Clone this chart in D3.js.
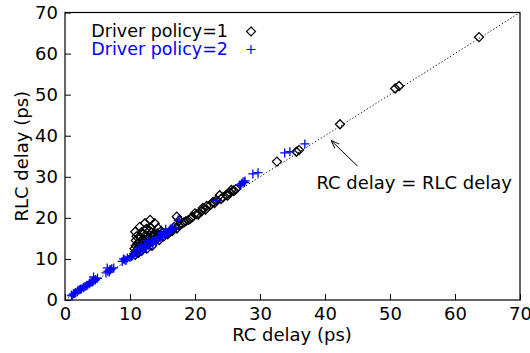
<!DOCTYPE html>
<html lang="en">
<head>
<meta charset="utf-8">
<title>RC vs RLC delay</title>
<script src="https://cdn.jsdelivr.net/npm/d3@7"></script>
<style>
  body { margin: 0; background: #fff; }
  text { font-family: "DejaVu Sans", sans-serif; }
</style>
</head>
<body>
<script>
// Driver policy = 1 (diamonds)
var rc1  = [10.8, 11.5, 12.3, 13.1, 13.8, 11.0, 11.8, 12.5, 13.2, 14.3,
            10.9, 11.6, 12.4, 13.3, 14.8, 11.2, 12.0, 12.8, 13.6, 10.7,
            11.4, 12.2, 13.0, 14.0, 10.8, 11.3, 11.8, 12.6, 13.4, 14.5,
            15.2, 15.8, 16.5, 17.2, 17.2, 17.6, 18.0, 18.6, 19.3, 20.0,
            20.5, 21.2, 21.8, 22.4, 22.8, 23.3, 23.8, 24.3, 24.8, 25.3,
            25.6, 26.0, 32.6, 35.6, 36.0, 42.3, 50.8, 51.4, 63.7,
            11.1, 11.7, 12.1, 12.7, 13.5, 14.1, 10.9, 11.5, 12.3, 12.9,
            13.7, 14.6, 15.4, 16.1, 16.8, 17.5, 18.3, 19.0, 19.6, 20.3,
            21.0, 21.6, 23.0, 24.0, 25.0, 25.9, 26.3, 12.0, 13.0, 14.2];
var rlc1 = [16.6, 17.8, 18.7, 19.5, 18.7, 15.5, 16.5, 17.3, 17.6, 17.5,
            14.5, 15.2, 15.8, 16.4, 16.8, 13.8, 14.2, 14.8, 15.4, 12.5,
            13.0, 13.4, 13.8, 14.6, 11.0, 11.5, 12.0, 12.5, 13.2, 14.6,
            15.5, 16.0, 16.8, 17.4, 20.3, 19.4, 18.6, 19.2, 19.8, 21.1,
            20.8, 22.4, 22.9, 23.2, 23.9, 24.3, 25.5, 25.0, 25.6, 26.2,
            26.8, 26.6, 33.7, 36.1, 36.5, 42.8, 51.5, 52.1, 64.0,
            12.2, 12.8, 13.0, 13.6, 14.3, 15.2, 13.2, 14.0, 14.7, 15.3,
            16.0, 15.8, 16.2, 16.6, 17.8, 18.2, 18.9, 19.5, 20.2, 20.9,
            21.6, 22.0, 23.6, 24.6, 25.4, 26.6, 27.0, 16.0, 16.9, 16.2];

// Driver policy = 2 (pluses)
var rc2  = [1.0, 1.3, 1.6, 1.9, 2.2, 2.5, 2.8, 3.1, 3.4, 3.7,
            4.0, 4.3, 4.7, 5.0, 4.4, 6.3, 6.6, 6.9, 7.2, 7.5,
            6.5, 8.8, 9.2, 9.6, 10.0, 10.4, 10.7, 11.0, 11.3, 11.6,
            12.0, 12.3, 12.6, 13.0, 13.3, 13.6, 14.0, 14.3, 14.6, 15.0,
            15.3, 15.6, 16.0, 16.4, 16.6, 17.4, 12.5, 13.5, 11.8, 12.8,
            14.8, 15.5, 23.2, 26.9, 27.2, 27.4, 27.7, 28.9, 29.7, 33.8,
            34.6, 36.9,
            1.1, 1.5, 2.0, 2.4, 2.9, 3.3, 3.8, 4.2, 4.6, 6.8,
            7.0, 9.0, 9.4, 10.2, 10.6, 11.1, 11.5, 11.9, 12.4, 12.9,
            13.4, 13.9, 14.4, 14.9, 15.4, 15.9, 16.2, 17.0, 27.0, 27.6];
var rlc2 = [1.2, 1.5, 1.8, 2.0, 2.5, 2.7, 3.0, 3.3, 3.6, 3.9,
            4.3, 4.5, 5.0, 5.3, 5.6, 6.6, 7.0, 7.3, 7.6, 7.8,
            7.8, 9.4, 9.8, 10.2, 10.4, 10.8, 11.8, 11.3, 12.2, 11.9,
            12.6, 13.0, 13.3, 13.6, 14.0, 14.2, 14.6, 15.0, 15.2, 15.6,
            16.0, 16.2, 16.6, 17.0, 17.6, 19.5, 12.6, 13.6, 13.5, 14.5,
            16.5, 17.2, 24.2, 28.0, 28.4, 28.8, 29.0, 30.7, 31.0, 35.8,
            36.1, 38.0,
            1.0, 1.6, 2.3, 2.6, 3.1, 3.5, 4.1, 4.4, 4.8, 6.8,
            7.4, 10.0, 9.6, 10.6, 11.3, 11.8, 12.7, 12.3, 13.2, 13.3,
            14.3, 14.4, 15.3, 15.4, 16.3, 16.5, 17.3, 17.4, 27.9, 28.6];

var xTicks = [0, 10, 20, 30, 40, 50, 60, 70];
var yTicks = [0, 10, 20, 30, 40, 50, 60, 70];

var w = 530, h = 353;
var padL = 65, padR = 520, padT = 12.5, padB = 300;

var svg = d3.select("body").append("svg")
    .attr("width", w)
    .attr("height", h);

var x = d3.scaleLinear().domain([0, 70]).range([padL, padR]);
var y = d3.scaleLinear().domain([0, 70]).range([padB, padT]);

// frame
svg.append("rect")
   .attr("x", padL).attr("y", padT)
   .attr("width", padR - padL).attr("height", padB - padT)
   .attr("fill", "none").attr("stroke", "#000").attr("stroke-width", 1.2);

// axes with inward ticks
var xAxis = svg.append("g")
   .attr("transform", "translate(0," + padB + ")")
   .call(d3.axisBottom(x).tickValues(xTicks).tickSizeInner(-6).tickSizeOuter(0).tickPadding(7));
var yAxis = svg.append("g")
   .attr("transform", "translate(" + padL + ",0)")
   .call(d3.axisLeft(y).tickValues(yTicks).tickSizeInner(-6).tickSizeOuter(0).tickPadding(7));
[xAxis, yAxis].forEach(function(a) {
  a.select(".domain").remove();
  a.selectAll("line").attr("stroke", "#000");
  a.selectAll("text")
   .attr("font-family", "DejaVu Sans, sans-serif")
   .attr("font-size", "18px")
   .attr("fill", "#000");
});

// y = x reference line
svg.append("line")
   .attr("x1", x(0)).attr("y1", y(0))
   .attr("x2", x(70)).attr("y2", y(70))
   .attr("stroke", "#000").attr("stroke-width", 1)
   .attr("stroke-dasharray", "1.2,2.2");

var plusPath = "M-4.5,0H4.5M0,-4.5V4.5";
var diamondPath = "M0,-4.5L4.5,0L0,4.5L-4.5,0Z";

// policy 1 diamonds (drawn first, pluses go on top)
var pts1 = d3.zip(rc1, rlc1);
svg.selectAll("path.p1")
   .data(pts1).enter()
   .append("path").attr("class", "p1")
   .attr("transform", function(d) { return "translate(" + x(d[0]) + "," + y(d[1]) + ")"; })
   .attr("d", diamondPath)
   .attr("stroke", "#000").attr("stroke-width", 1.3).attr("fill", "none");

// policy 2 pluses
var pts2 = d3.zip(rc2, rlc2);
svg.selectAll("path.p2")
   .data(pts2).enter()
   .append("path").attr("class", "p2")
   .attr("transform", function(d) { return "translate(" + x(d[0]) + "," + y(d[1]) + ")"; })
   .attr("d", plusPath)
   .attr("stroke", "#0000ff").attr("stroke-width", 1.3).attr("fill", "none");

// legend
var legend = [
  {label: "Driver policy=1", color: "#000", shape: diamondPath},
  {label: "Driver policy=2", color: "#0000ff", shape: plusPath}
];
legend.forEach(function(l, i) {
  var ly = 37 + i * 18;
  svg.append("text")
     .attr("x", 228).attr("y", ly)
     .attr("text-anchor", "end")
     .attr("font-size", "17.5px")
     .attr("fill", l.color)
     .text(l.label);
  svg.append("path")
     .attr("transform", "translate(251," + (ly - 5.5) + ")")
     .attr("d", l.shape)
     .attr("stroke", l.color).attr("stroke-width", 1.2).attr("fill", "none");
});

// annotation
svg.append("defs").append("marker")
   .attr("id", "arr").attr("viewBox", "0 0 10 10")
   .attr("refX", 10).attr("refY", 5)
   .attr("markerWidth", 9).attr("markerHeight", 9)
   .attr("markerUnits", "userSpaceOnUse")
   .attr("orient", "auto")
   .append("path").attr("d", "M0,1.5L10,5L0,8.5").attr("fill", "none").attr("stroke", "#000");
svg.append("line")
   .attr("x1", x(45)).attr("y1", y(32.6))
   .attr("x2", x(40.9)).attr("y2", y(38.9))
   .attr("stroke", "#000").attr("stroke-width", 1)
   .attr("marker-end", "url(#arr)");
svg.append("text")
   .attr("x", 512).attr("y", 189)
   .attr("text-anchor", "end")
   .attr("font-size", "18px")
   .text("RC delay = RLC delay");

// axis titles
svg.append("text")
   .attr("x", 292).attr("y", 341)
   .attr("text-anchor", "middle")
   .attr("font-size", "18px")
   .text("RC delay (ps)");
svg.append("text")
   .attr("transform", "translate(28," + ((padT + padB) / 2) + ") rotate(-90)")
   .attr("text-anchor", "middle")
   .attr("font-size", "18px")
   .text("RLC delay (ps)");
</script>
</body>
</html>
